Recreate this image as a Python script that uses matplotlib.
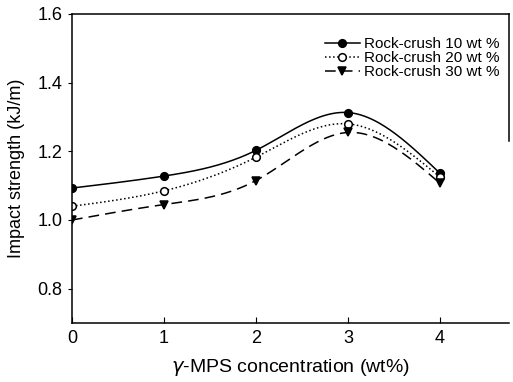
import numpy as np
import matplotlib
matplotlib.use('Agg')
from matplotlib import pyplot as plt

# data
conc = [0, 1, 2, 3, 4]
rc10 = [1.093, 1.128, 1.203, 1.313, 1.136]
rc20 = [1.040, 1.085, 1.183, 1.280, 1.125]
rc30 = [1.000, 1.045, 1.115, 1.255, 1.107]
labels = ['Rock-crush 10 wt %', 'Rock-crush 20 wt %', 'Rock-crush 30 wt %']


def smooth(x, y, n=200):
    # natural cubic spline through the points, only used to draw the curve
    x = np.asarray(x, float)
    y = np.asarray(y, float)
    k = len(x)
    h = np.diff(x)
    A = np.zeros((k, k))
    b = np.zeros(k)
    A[0, 0] = A[-1, -1] = 1
    for i in range(1, k - 1):
        A[i, i - 1] = h[i - 1]
        A[i, i] = 2 * (h[i - 1] + h[i])
        A[i, i + 1] = h[i]
        b[i] = 6 * ((y[i + 1] - y[i]) / h[i] - (y[i] - y[i - 1]) / h[i - 1])
    M = np.linalg.solve(A, b)
    xs = np.linspace(x[0], x[-1], n)
    ys = np.empty_like(xs)
    for j, t in enumerate(xs):
        i = min(np.searchsorted(x, t, side='right') - 1, k - 2)
        a, c = x[i], x[i + 1]
        ys[j] = (M[i] * (c - t) ** 3 / (6 * h[i]) + M[i + 1] * (t - a) ** 3 / (6 * h[i])
                 + (y[i] / h[i] - M[i] * h[i] / 6) * (c - t)
                 + (y[i + 1] / h[i] - M[i + 1] * h[i] / 6) * (t - a))
    return xs, ys


plt.rcParams['font.family'] = ['Liberation Sans', 'DejaVu Sans']
fig = plt.figure(figsize=(5.13, 3.82), dpi=100)
ax = fig.add_axes([72 / 513, 1 - 323 / 382, (509 - 72) / 513, (323 - 14) / 382])

styles = [('-', 'o', 'black'), (':', 'o', 'white'), ((0, (7, 4)), 'v', 'black')]
for ys, lab, (ls, mk, fc) in zip([rc10, rc20, rc30], labels, styles):
    sx, sy = smooth(conc, ys)
    ax.plot(sx, sy, color='black', ls=ls, lw=1.1)
    ax.plot(conc, ys, ls='none', marker=mk, ms=5.5, mfc=fc, mec='black', mew=1.1)
    ax.plot([], [], color='black', ls=ls, lw=1.1, marker=mk, ms=5.5, mfc=fc,
            mec='black', mew=1.1, label=lab)

ax.set_xlim(0, 4.75)
ax.set_ylim(0.7, 1.6)
ax.set_xticks([0, 1, 2, 3, 4])
ax.set_yticks([0.8, 1.0, 1.2, 1.4, 1.6])
ax.set_yticklabels(['0.8', '1.0', '1.2', '1.4', '1.6'])
ax.tick_params(axis='x', direction='in', length=4, labelsize=13, pad=5)
ax.tick_params(axis='y', direction='out', length=3, labelsize=13, pad=4)
ax.spines['right'].set_bounds(1.23, 1.6)
for s in ax.spines.values():
    s.set_linewidth(1.1)

ax.set_xlabel(r'$\gamma$-MPS concentration (wt%)', fontsize=14, labelpad=7)
ax.set_ylabel('Impact strength (kJ/m)', fontsize=13, labelpad=9)

ax.legend(loc='upper right', bbox_to_anchor=(1.0, 0.955), frameon=False,
          fontsize=11, handlelength=2.3, labelspacing=0.0,
          borderaxespad=0.2, handletextpad=0.3)

fig.savefig('out.png', dpi=100)
